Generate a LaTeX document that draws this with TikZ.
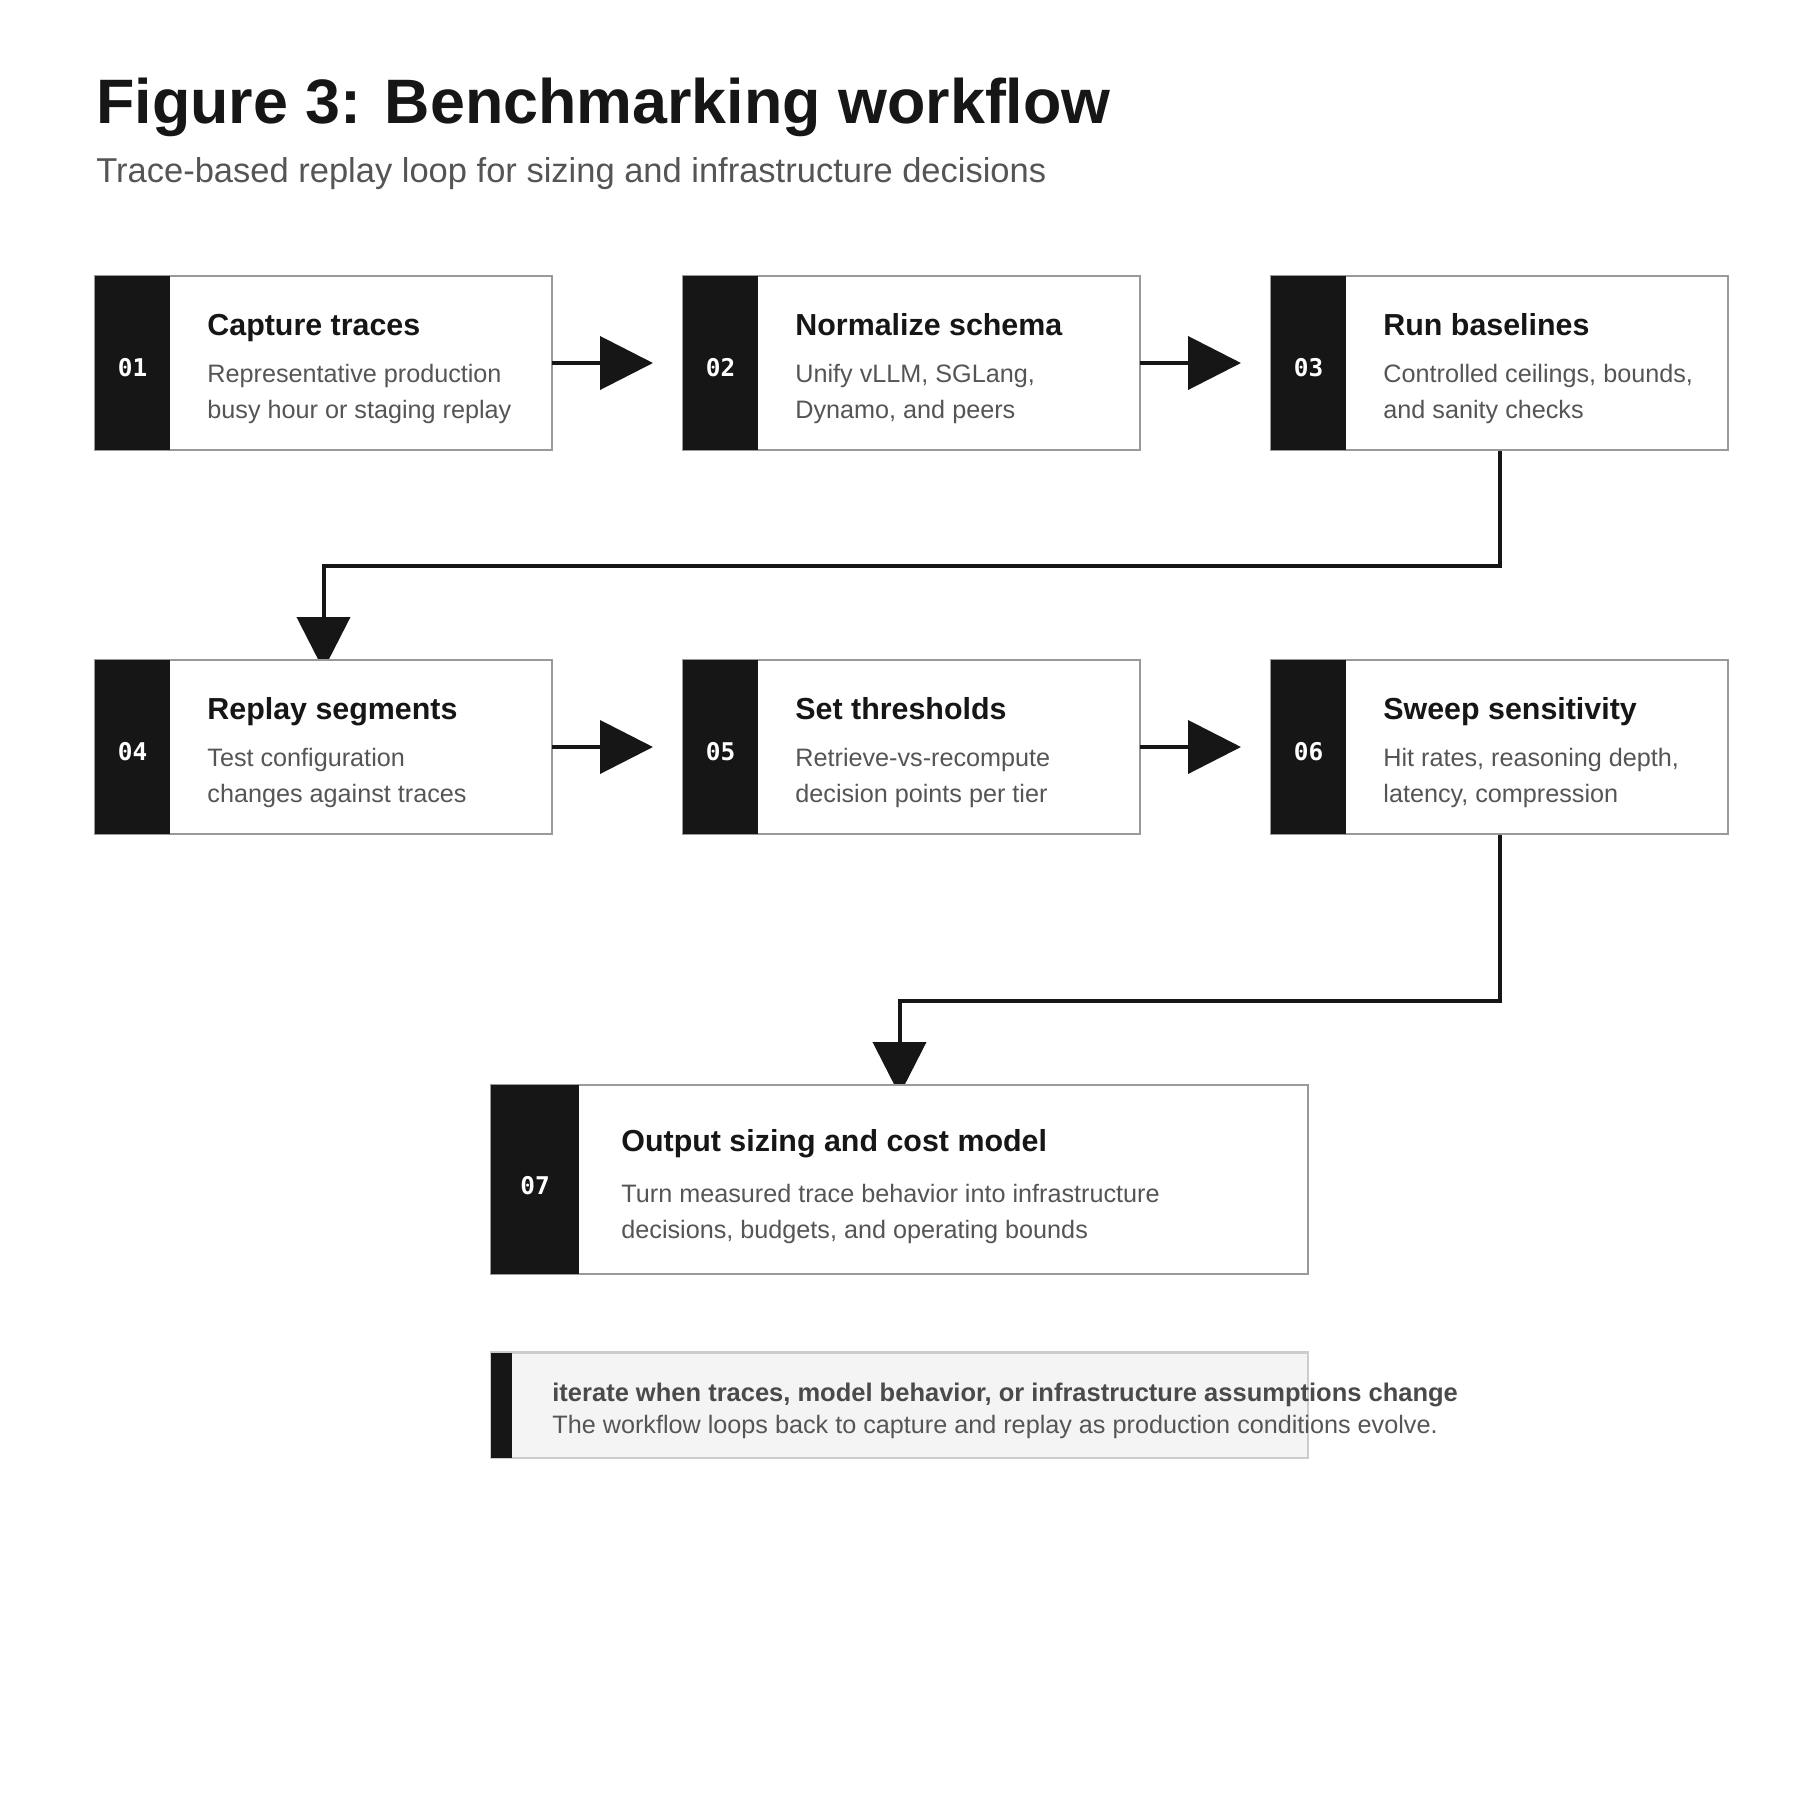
\documentclass[tikz,border=0pt]{standalone}
\usepackage{fontspec}
\setmainfont{Liberation Sans}
\setmonofont{DejaVu Sans Mono}
\usetikzlibrary{positioning,arrows.meta,backgrounds}
\definecolor{negro}{HTML}{161616}
\definecolor{borde}{HTML}{9A9A9A}
\definecolor{gris}{HTML}{555555}
\definecolor{grisnota}{HTML}{4A4A4A}
\definecolor{fondo}{HTML}{F4F4F4}
\definecolor{bordenota}{HTML}{CCCCCC}

\begin{document}
\begin{tikzpicture}[
  x=0.5pt, y=-0.5pt,
  caja/.style={draw=borde, line width=1.25pt, fill=white, anchor=north west, outer sep=0pt,
    inner sep=0pt, minimum width=228.5pt, minimum height=87pt},
  pestana/.style={fill=negro, anchor=north west, inner sep=0pt, outer sep=0pt,
    minimum width=37.5pt, minimum height=87pt},
  num/.style={text=white, font=\fontsize{12.2}{14}\selectfont\ttfamily\bfseries, inner sep=0pt},
  tit/.style={anchor=base west, inner sep=0pt, text=negro, font=\fontsize{15.2}{18}\selectfont\bfseries},
  desc/.style={anchor=base west, inner sep=0pt, text=gris, align=left, font=\fontsize{12.6}{18}\selectfont},
  flecha/.style={-{Triangle[length=26.5pt, width=26.5pt]}, line width=2pt, draw=negro}
]
  \useasboundingbox (0,0) rectangle (1800,1800);

  % cabecera
  \node[anchor=base west, inner sep=0pt, text=negro, font=\fontsize{31.4}{36}\selectfont\bfseries] (titulo) at (96,123)
        {Figure 3: Benchmarking workflow};
  \node[anchor=base west, inner sep=0pt, text=gris, font=\fontsize{17.25}{20}\selectfont] (subtitulo) at (96,182)
        {Trace-based replay loop for sizing and infrastructure decisions};

  % fila 1
  \node[caja] (c1) at (95,276) {};
  \node[pestana] (p1) at (c1.north west) {};
  \node[num] at ([yshift=-2.5pt]p1.center) {01};
  \node[tit] (t1) at (207,335) {Capture traces};
  \node[desc] (d1) at (207,418) {Representative production\\busy hour or staging replay};

  \node[caja] (c2) at (683,276) {};
  \node[pestana] (p2) at (c2.north west) {};
  \node[num] at ([yshift=-2.5pt]p2.center) {02};
  \node[tit] (t2) at (795,335) {Normalize schema};
  \node[desc] (d2) at (795,418) {Unify vLLM, SGLang,\\Dynamo, and peers};

  \node[caja] (c3) at (1271,276) {};
  \node[pestana] (p3) at (c3.north west) {};
  \node[num] at ([yshift=-2.5pt]p3.center) {03};
  \node[tit] (t3) at (1383,335) {Run baselines};
  \node[desc] (d3) at (1383,418) {Controlled ceilings, bounds,\\and sanity checks};

  % fila 2
  \node[caja] (c4) at (95,660) {};
  \node[pestana] (p4) at (c4.north west) {};
  \node[num] at ([yshift=-2.5pt]p4.center) {04};
  \node[tit] (t4) at (207,719) {Replay segments};
  \node[desc] (d4) at (207,802) {Test configuration\\changes against traces};

  \node[caja] (c5) at (683,660) {};
  \node[pestana] (p5) at (c5.north west) {};
  \node[num] at ([yshift=-2.5pt]p5.center) {05};
  \node[tit] (t5) at (795,719) {Set thresholds};
  \node[desc] (d5) at (795,802) {Retrieve-vs-recompute\\decision points per tier};

  \node[caja] (c6) at (1271,660) {};
  \node[pestana] (p6) at (c6.north west) {};
  \node[num] at ([yshift=-2.5pt]p6.center) {06};
  \node[tit] (t6) at (1383,719) {Sweep sensitivity};
  \node[desc] (d6) at (1383,802) {Hit rates, reasoning depth,\\latency, compression};

  % salida
  \node[caja, minimum width=408.5pt, minimum height=94.5pt] (c7) at (491,1085) {};
  \node[pestana, minimum width=44pt, minimum height=94.5pt] (p7) at (c7.north west) {};
  \node[num] at ([yshift=-3pt]p7.center) {07};
  \node[tit] (t7) at (621,1151) {Output sizing and cost model};
  \node[desc] (d7) at (621,1238) {Turn measured trace behavior into infrastructure\\decisions, budgets, and operating bounds};

  % nota
  \node[draw=bordenota, line width=1.25pt, fill=fondo, anchor=north west, outer sep=0pt, inner sep=0pt,
        minimum width=408.5pt, minimum height=52.75pt] (nota) at (491,1352.5) {};
  \node[fill=negro, anchor=north west, inner sep=0pt, outer sep=0pt,
        minimum width=10.5pt, minimum height=52.75pt] (barra) at (nota.north west) {};
  \node[anchor=base west, inner sep=0pt, text=grisnota, font=\fontsize{12.75}{15}\selectfont\bfseries] (n1) at (552,1401.5)
        {iterate when traces, model behavior, or infrastructure assumptions change};
  \node[anchor=base west, inner sep=0pt, text=gris, font=\fontsize{12.6}{15}\selectfont] (n2) at (552,1433.5)
        {The workflow loops back to capture and replay as production conditions evolve.};

  % flechas
  \draw[flecha, shorten >=15pt] (c1.east) -- (c2.west);
  \draw[flecha, shorten >=15pt] (c2.east) -- (c3.west);
  \draw[flecha, shorten >=15pt] (c4.east) -- (c5.west);
  \draw[flecha, shorten >=15pt] (c5.east) -- (c6.west);

  \coordinate (codo1) at (323.5,566);
  \coordinate (codo2) at (899.5,1001);
  \begin{scope}[on background layer]
    \fill[white] (0,0) rectangle (1800,1800);
    \draw[flecha] (c3.south) |- (codo1) -- ([yshift=-5pt]c4.north);
    \draw[flecha] (c6.south) |- (codo2) -- ([yshift=-5pt]c7.north);
  \end{scope}
\end{tikzpicture}
\end{document}
